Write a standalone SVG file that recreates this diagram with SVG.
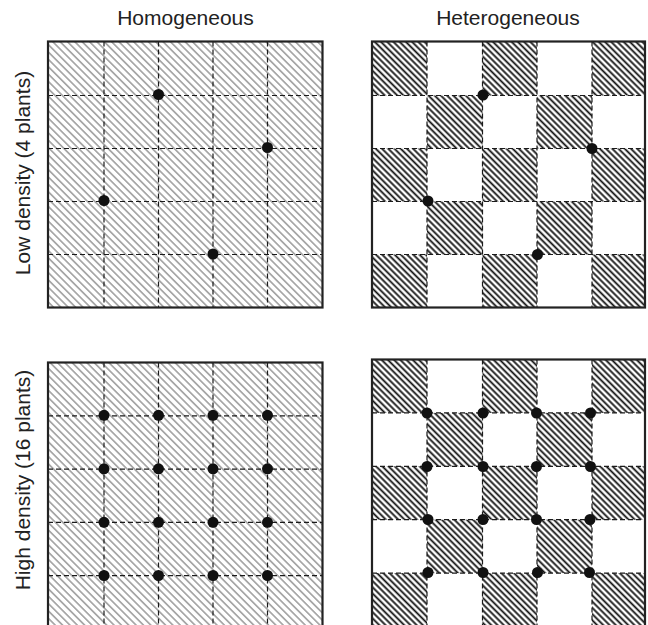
<svg xmlns="http://www.w3.org/2000/svg" width="648" height="625" viewBox="0 0 648 625">
<style>
.lbl{font-family:"Liberation Sans",Arial,sans-serif;font-size:21px;fill:#222;text-anchor:middle}
.frame{fill:none;stroke:#222;stroke-width:2.2}
.grid{stroke:#1a1a1a;stroke-width:1.2;stroke-dasharray:5 3;fill:none}
.dot{fill:#111}
.homo{fill:url(#hatchLight)}
.het{fill:url(#hatchDark)}
</style>
<defs>
<pattern id="hatchLight" patternUnits="userSpaceOnUse" width="5.2" height="10" patternTransform="rotate(-45)">
<rect width="5.2" height="10" fill="#fff"/>
<line x1="2.6" y1="-1" x2="2.6" y2="11" stroke="#a0a0a0" stroke-width="1.6"/>
</pattern>
<pattern id="hatchDark" patternUnits="userSpaceOnUse" width="4.4" height="10" patternTransform="rotate(-45)">
<rect width="4.4" height="10" fill="#fff"/>
<line x1="2.2" y1="-1" x2="2.2" y2="11" stroke="#111" stroke-width="1.8"/>
</pattern>
</defs>
<rect width="648" height="625" fill="#fff"/>

<g id="labels">
<text class="lbl" x="185.5" y="25">Homogeneous</text>
<text class="lbl" x="508" y="25">Heterogeneous</text>
<text class="lbl" transform="translate(29.5,173) rotate(-90)">Low density (4 plants)</text>
<text class="lbl" transform="translate(29.5,480) rotate(-90)">High density (16 plants)</text>
</g>

<g id="panel-low-homogeneous">
<rect class="homo" x="48" y="41.5" width="274.5" height="266"/>
<path class="grid" d="M104 41.5V307.5M158.5 41.5V307.5M213 41.5V307.5M267.5 41.5V307.5M48 95.5H322.5M48 148.5H322.5M48 201.5H322.5M48 254.5H322.5"/>
<rect class="frame" x="48" y="41.5" width="274.5" height="266"/>
<circle class="dot" cx="158.5" cy="94.5" r="5.5"/>
<circle class="dot" cx="267.5" cy="147.5" r="5.5"/>
<circle class="dot" cx="104" cy="200.5" r="5.5"/>
<circle class="dot" cx="213" cy="254" r="5.5"/>
</g>

<g id="panel-low-heterogeneous">
<rect x="372" y="41.5" width="273" height="266" fill="#fff"/>
<g class="het">
<rect x="372" y="41.5" width="55" height="54"/>
<rect x="482.5" y="41.5" width="54.5" height="54"/>
<rect x="592" y="41.5" width="53" height="54"/>
<rect x="427" y="95.5" width="55.5" height="53"/>
<rect x="537" y="95.5" width="55" height="53"/>
<rect x="372" y="148.5" width="55" height="53"/>
<rect x="482.5" y="148.5" width="54.5" height="53"/>
<rect x="592" y="148.5" width="53" height="53"/>
<rect x="427" y="201.5" width="55.5" height="53"/>
<rect x="537" y="201.5" width="55" height="53"/>
<rect x="372" y="254.5" width="55" height="53"/>
<rect x="482.5" y="254.5" width="54.5" height="53"/>
<rect x="592" y="254.5" width="53" height="53"/>
</g>
<path class="grid" d="M427 41.5V307.5M482.5 41.5V307.5M537 41.5V307.5M592 41.5V307.5M372 95.5H645M372 148.5H645M372 201.5H645M372 254.5H645"/>
<rect class="frame" x="372" y="41.5" width="273" height="266"/>
<circle class="dot" cx="483" cy="95" r="5.5"/>
<circle class="dot" cx="592" cy="148.5" r="5.5"/>
<circle class="dot" cx="428" cy="201" r="5.5"/>
<circle class="dot" cx="537.5" cy="254.5" r="5.5"/>
</g>

<g id="panel-high-homogeneous">
<rect class="homo" x="48" y="362.5" width="274.5" height="266.5"/>
<path class="grid" d="M104 362.5V629M158.5 362.5V629M213 362.5V629M267.5 362.5V629M48 415.8H322.5M48 469.1H322.5M48 522.4H322.5M48 575.7H322.5"/>
<rect class="frame" x="48" y="362.5" width="274.5" height="266.5"/>
<g class="dot">
<circle cx="104" cy="415.3" r="5.5"/><circle cx="158.5" cy="415.3" r="5.5"/><circle cx="213" cy="415.3" r="5.5"/><circle cx="267.5" cy="415.3" r="5.5"/>
<circle cx="104" cy="468.8" r="5.5"/><circle cx="158.5" cy="468.8" r="5.5"/><circle cx="213" cy="468.8" r="5.5"/><circle cx="267.5" cy="468.8" r="5.5"/>
<circle cx="104" cy="522.3" r="5.5"/><circle cx="158.5" cy="522.3" r="5.5"/><circle cx="213" cy="522.3" r="5.5"/><circle cx="267.5" cy="522.3" r="5.5"/>
<circle cx="104" cy="575.5" r="5.5"/><circle cx="158.5" cy="575.5" r="5.5"/><circle cx="213" cy="575.5" r="5.5"/><circle cx="267.5" cy="575.5" r="5.5"/>
</g>
</g>

<g id="panel-high-heterogeneous">
<rect x="372" y="359.5" width="273" height="267" fill="#fff"/>
<g class="het">
<rect x="372" y="359.5" width="55" height="53.4"/>
<rect x="482.5" y="359.5" width="54.5" height="53.4"/>
<rect x="592" y="359.5" width="53" height="53.4"/>
<rect x="427" y="412.9" width="55.5" height="53.4"/>
<rect x="537" y="412.9" width="55" height="53.4"/>
<rect x="372" y="466.3" width="55" height="53.4"/>
<rect x="482.5" y="466.3" width="54.5" height="53.4"/>
<rect x="592" y="466.3" width="53" height="53.4"/>
<rect x="427" y="519.7" width="55.5" height="53.4"/>
<rect x="537" y="519.7" width="55" height="53.4"/>
<rect x="372" y="573.1" width="55" height="53.4"/>
<rect x="482.5" y="573.1" width="54.5" height="53.4"/>
<rect x="592" y="573.1" width="53" height="53.4"/>
</g>
<path class="grid" d="M427 359.5V626.5M482.5 359.5V626.5M537 359.5V626.5M592 359.5V626.5M372 412.9H645M372 466.3H645M372 519.7H645M372 573.1H645"/>
<rect class="frame" x="372" y="359.5" width="273" height="267"/>
<g class="dot">
<circle cx="427" cy="413" r="5.5"/><circle cx="483" cy="413" r="5.5"/><circle cx="536.5" cy="413" r="5.5"/><circle cx="590.5" cy="413" r="5.5"/>
<circle cx="427" cy="466.5" r="5.5"/><circle cx="483" cy="466.5" r="5.5"/><circle cx="536.5" cy="466.5" r="5.5"/><circle cx="590.5" cy="466.5" r="5.5"/>
<circle cx="428" cy="519.5" r="5.5"/><circle cx="483" cy="519.5" r="5.5"/><circle cx="536.5" cy="519.5" r="5.5"/><circle cx="590" cy="519.5" r="5.5"/>
<circle cx="428" cy="572.5" r="5.5"/><circle cx="483" cy="572.5" r="5.5"/><circle cx="537.5" cy="572.5" r="5.5"/><circle cx="589.5" cy="572.5" r="5.5"/>
</g>
</g>

<g id="connectors"></g>
</svg>
